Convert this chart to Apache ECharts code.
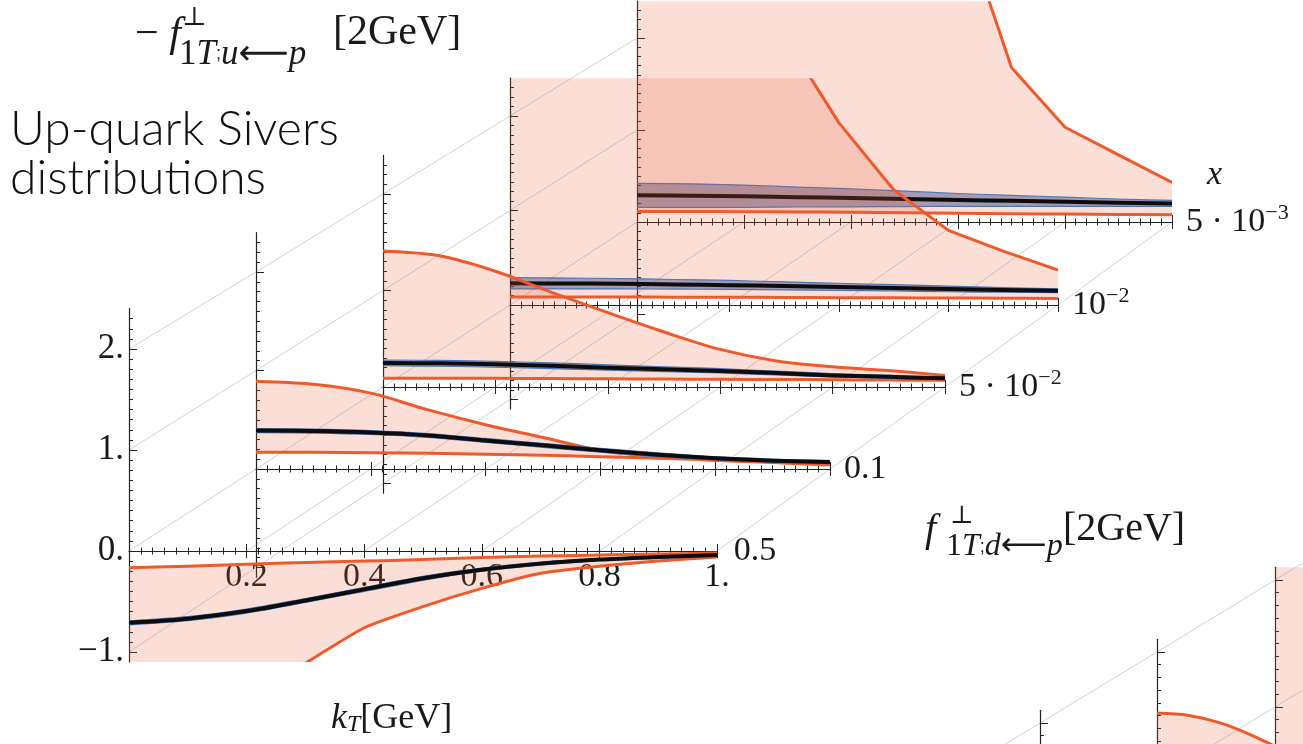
<!DOCTYPE html>
<html><head><meta charset="utf-8">
<script src="https://cdn.jsdelivr.net/npm/echarts@6/dist/echarts.min.js"></script>
<style>html,body{margin:0;padding:0;background:#fff}#c{width:1303px;height:744px}</style>
</head><body><div id="c"></div>
<script>
// ================= DATA =================
const kT = [0, 0.1, 0.2, 0.3, 0.4, 0.5, 0.6, 0.7, 0.8, 0.9, 1.0];
const xValueLabels = ['0.5', '0.1', '5 · 10{s|−2}', '10{s|−2}', '5 · 10{s|−3}'];
const kTTickLabels = ['0.2', '0.4', '0.6', '0.8', '1.'];
const yTickValues = [-1, 0, 1, 2];

// panel x = 0.5
const p0Upper   = [-0.165, -0.15, -0.13, -0.115, -0.10, -0.085, -0.065, -0.05, -0.04, -0.03, -0.02];
const p0Lower   = [-2.1, -1.8, -1.46, -1.11, -0.76, -0.55, -0.37, -0.22, -0.15, -0.10, -0.06];
const p0Central = [-0.71, -0.67, -0.595, -0.49, -0.38, -0.27, -0.185, -0.125, -0.085, -0.06, -0.04];
const p0BandHi  = [-0.69, -0.65, -0.575, -0.47, -0.36, -0.25, -0.17, -0.11, -0.075, -0.05, -0.032];
const p0BandLo  = [-0.73, -0.69, -0.615, -0.51, -0.40, -0.29, -0.20, -0.14, -0.095, -0.07, -0.048];
// panel x = 0.1
const p1Upper   = [0.89, 0.86, 0.77, 0.60, 0.45, 0.32, 0.19, 0.13, 0.09, 0.075, 0.065];
const p1Lower   = [0.17, 0.17, 0.165, 0.16, 0.15, 0.14, 0.125, 0.11, 0.09, 0.065, 0.04];
const p1Central = [0.39, 0.385, 0.37, 0.34, 0.29, 0.24, 0.19, 0.145, 0.11, 0.085, 0.07];
const p1BandHi  = [0.41, 0.405, 0.39, 0.36, 0.31, 0.26, 0.21, 0.165, 0.125, 0.10, 0.085];
const p1BandLo  = [0.37, 0.365, 0.35, 0.32, 0.27, 0.22, 0.17, 0.125, 0.095, 0.07, 0.055];
// panel x = 5e-2
const p2Upper   = [1.41, 1.36, 1.20, 0.98, 0.77, 0.57, 0.39, 0.27, 0.21, 0.17, 0.12];
const p2Lower   = [0.09, 0.09, 0.09, 0.088, 0.085, 0.083, 0.08, 0.078, 0.075, 0.072, 0.07];
const p2Central = [0.25, 0.245, 0.235, 0.22, 0.20, 0.185, 0.165, 0.145, 0.12, 0.105, 0.09];
const p2BandHi  = [0.28, 0.275, 0.265, 0.25, 0.23, 0.21, 0.19, 0.165, 0.14, 0.12, 0.105];
const p2BandLo  = [0.22, 0.215, 0.205, 0.19, 0.175, 0.16, 0.145, 0.125, 0.105, 0.09, 0.078];
// panel x = 1e-2
const p3Upper   = [12, 10, 8, 6, 4.2, 2.85, 1.93, 1.22, 0.79, 0.57, 0.37];
const p3Lower   = [0.085, 0.085, 0.084, 0.083, 0.082, 0.08, 0.078, 0.076, 0.074, 0.072, 0.07];
const p3Central = [0.23, 0.228, 0.225, 0.218, 0.21, 0.20, 0.19, 0.18, 0.17, 0.16, 0.15];
const p3BandHi  = [0.29, 0.285, 0.28, 0.27, 0.26, 0.245, 0.23, 0.215, 0.20, 0.185, 0.17];
const p3BandLo  = [0.17, 0.17, 0.17, 0.168, 0.165, 0.16, 0.155, 0.15, 0.14, 0.135, 0.13];
// panel x = 5e-3
const p4Upper   = [15, 13, 11, 9, 7, 5, 3.4, 1.68, 1.03, 0.73, 0.43];
const p4Lower   = [0.115, 0.114, 0.112, 0.11, 0.105, 0.10, 0.095, 0.09, 0.086, 0.082, 0.078];
const p4Central = [0.29, 0.285, 0.28, 0.27, 0.26, 0.25, 0.24, 0.23, 0.22, 0.21, 0.20];
const p4BandHi  = [0.42, 0.415, 0.40, 0.38, 0.36, 0.335, 0.31, 0.29, 0.27, 0.25, 0.235];
const p4BandLo  = [0.16, 0.16, 0.16, 0.163, 0.165, 0.168, 0.17, 0.17, 0.17, 0.17, 0.17];

// partially visible d-quark figure (bottom right)
const dKT      = [0, 0.05, 0.1, 0.15, 0.2, 0.3];
const dBUpper  = [0.52, 0.50, 0.44, 0.34, 0.22, 0.0];
const dBLower  = [-1.5, -1.5, -1.5, -1.5, -1.5, -1.5];
const dCUpper  = [2.0, 2.0, 2.0, 2.0, 2.0, 2.0];
const dCLower  = [-1.5, -1.5, -1.5, -1.5, -1.5, -1.5];
const dTickValues = [-1, 0, 1];

// ================= LAYOUT / STYLE =================
const SERIF = '"Liberation Serif","DejaVu Serif",serif';
const TXT = '#1a1a1a';
const AX = '#222';
const RED = '#ee5a2c';
const PINK = 'rgba(236,96,56,0.2)';
const BLUE = '#4a76b8';
const BLUEFILL = 'rgba(45,60,120,0.42)';
const GUIDE = '#d2d2d2';
const Y_MIN = -1.1, Y_MAX = 2.4;

const layout = [
  {left: 129, zeroY: 551, width: 588, scale: 101},
  {left: 256, zeroY: 469, width: 574, scale: 98.5},
  {left: 383, zeroY: 387, width: 562, scale: 96.5},
  {left: 510, zeroY: 305, width: 548, scale: 94.5},
  {left: 637, zeroY: 222, width: 535, scale: 92}
];
const dLayout = [
  {left: 1040, zeroY: 850, width: 650, scale: 127},
  {left: 1157, zeroY: 779, width: 640, scale: 127},
  {left: 1275, zeroY: 707, width: 630, scale: 127}
];
const D_MIN = -1.1, D_MAX = 1.1;

// smoothing of drawn curves: 1 = smooth spline, 0 = straight segments
const panels = [
  {upper: p0Upper, lower: p0Lower, central: p0Central, hi: p0BandHi, lo: p0BandLo, tu: 1, tl: 0.5},
  {upper: p1Upper, lower: p1Lower, central: p1Central, hi: p1BandHi, lo: p1BandLo, tu: 1, tl: 1},
  {upper: p2Upper, lower: p2Lower, central: p2Central, hi: p2BandHi, lo: p2BandLo, tu: 1, tl: 1},
  {upper: p3Upper, lower: p3Lower, central: p3Central, hi: p3BandHi, lo: p3BandLo, tu: 0, tl: 1},
  {upper: p4Upper, lower: p4Lower, central: p4Central, hi: p4BandHi, lo: p4BandLo, tu: 0, tl: 1}
];

// path through pixel points (Catmull-Rom style, t = tension 0..1)
function curvePath(pts, t, start) {
  let d = (start ? 'M' : 'L') + pts[0][0].toFixed(2) + ' ' + pts[0][1].toFixed(2);
  for (let i = 0; i < pts.length - 1; i++) {
    const p0 = pts[Math.max(i - 1, 0)], p1 = pts[i], p2 = pts[i + 1], p3 = pts[Math.min(i + 2, pts.length - 1)];
    const c1 = [p1[0] + (p2[0] - p0[0]) * t / 6, p1[1] + (p2[1] - p0[1]) * t / 6];
    const c2 = [p2[0] - (p3[0] - p1[0]) * t / 6, p2[1] - (p3[1] - p1[1]) * t / 6];
    d += 'C' + c1[0].toFixed(2) + ' ' + c1[1].toFixed(2) + ' ' + c2[0].toFixed(2) + ' ' + c2[1].toFixed(2) + ' ' + p2[0].toFixed(2) + ' ' + p2[1].toFixed(2);
  }
  return d;
}
const fillPath = (up, low, tu, tl) => curvePath(up, tu, true) + curvePath(low.slice().reverse(), tl, false) + 'Z';
const strokeEl = (d, color, w) => ({type: 'path', shape: {pathData: d}, style: {fill: null, stroke: color, lineWidth: w, lineJoin: 'round'}});
const fillEl = (d, color) => ({type: 'path', shape: {pathData: d}, style: {fill: color, stroke: null}});

function makeRenderer(n, tu, tl, withCentral) {
  return function (params, api) {
    if (params.dataIndex !== 0) return null;
    const col = dim => { const a = []; for (let j = 0; j < n; j++) a.push(api.coord([api.value(0, j), api.value(dim, j)])); return a; };
    const lower = col(1), upper = col(2);
    const children = [fillEl(fillPath(upper, lower, tu, tl), PINK)];
    children.push(strokeEl(curvePath(lower, tl, true), RED, 3));
    children.push(strokeEl(curvePath(upper, tu, true), RED, 3));
    if (withCentral) {
      const lo = col(3), hi = col(4), mid = col(5);
      children.push(fillEl(fillPath(hi, lo, 1, 1), BLUEFILL));
      children.push(strokeEl(curvePath(hi, 1, true), BLUE, 1.2));
      children.push(strokeEl(curvePath(lo, 1, true), BLUE, 1.2));
      children.push(strokeEl(curvePath(mid, 1, true), '#0d0d0d', 4));
    }
    const cs = params.coordSys;
    return {type: 'group', children,
      clipPath: {type: 'rect', shape: {x: cs.x, y: cs.y, width: cs.width, height: cs.height}}};
  };
}

const grids = [], xAxes = [], yAxes = [], series = [];
const nameRich = {s: {fontFamily: SERIF, fontSize: 22, lineHeight: 22, verticalAlign: 'top', color: TXT}};

layout.forEach((L, g) => {
  grids.push({left: L.left, top: L.zeroY - Y_MAX * L.scale, width: L.width,
    height: (Y_MAX - Y_MIN) * L.scale, containLabel: false, outerBoundsMode: 'none'});
  const off = Y_MIN * L.scale; // move axis from grid bottom up to value 0
  xAxes.push({
    gridIndex: g, type: 'value', min: 0, max: 1, interval: 0.2, position: 'bottom', offset: off,
    axisLine: {show: true, onZero: false, lineStyle: {color: AX, width: 1.2}},
    axisTick: {show: true, inside: true, length: 7, lineStyle: {color: AX, width: 1}},
    minorTick: {show: true, splitNumber: 10, length: 3.5, lineStyle: {color: AX, width: 1}},
    splitLine: {show: false},
    axisLabel: {show: g === 0, margin: 9, fontFamily: SERIF, fontSize: 34, color: TXT,
      formatter: v => { const i = Math.round(v / 0.2) - 1; return i >= 0 ? kTTickLabels[i] : ''; }},
    name: xValueLabels[g], nameLocation: 'end', nameGap: 14,
    nameTextStyle: {fontFamily: SERIF, fontSize: 34, color: TXT, lineHeight: 40, rich: nameRich}
  });
  xAxes.push({
    gridIndex: g, type: 'value', min: 0, max: 1, interval: 0.2, position: 'bottom', offset: off,
    axisLine: {show: true, onZero: false, lineStyle: {color: AX, width: 1, opacity: 0}},
    axisTick: {show: true, inside: false, length: 7, lineStyle: {color: AX, width: 1}},
    minorTick: {show: true, splitNumber: 10, length: 3.5, lineStyle: {color: AX, width: 1}},
    splitLine: {show: false}, axisLabel: {show: false}
  });
  yAxes.push({
    gridIndex: g, type: 'value', min: Y_MIN, max: Y_MAX, splitNumber: 3, position: 'left',
    axisLine: {show: true, onZero: false, lineStyle: {color: AX, width: 1.2}},
    axisTick: {show: true, inside: true, length: 8, customValues: yTickValues, lineStyle: {color: AX, width: 1}},
    minorTick: {show: true, splitNumber: 10, length: 4, lineStyle: {color: AX, width: 1}},
    splitLine: {show: false},
    axisLabel: {show: g === 0, customValues: yTickValues, margin: 5, fontFamily: SERIF, fontSize: 35, color: TXT,
      formatter: v => Number.isInteger(v) ? (v < 0 ? '−' : '') + Math.abs(v) + '.' : ''}
  });
});

// series: back panels first so front panels draw on top
for (let g = layout.length - 1; g >= 0; g--) {
  const P = panels[g];
  series.push({
    type: 'custom', coordinateSystem: 'cartesian2d', xAxisIndex: 2 * g, yAxisIndex: g,
    data: kT.map((k, i) => [k, P.lower[i], P.upper[i], P.lo[i], P.hi[i], P.central[i]]),
    encode: {x: 0, y: [1, 2, 3, 4, 5]},
    renderItem: makeRenderer(kT.length, P.tu, P.tl, true), z: 2
  });
}

// d-quark partial panels
dLayout.forEach((L, j) => {
  const g = layout.length + j;
  grids.push({left: L.left, top: L.zeroY - D_MAX * L.scale, width: L.width,
    height: (D_MAX - D_MIN) * L.scale, containLabel: false, outerBoundsMode: 'none'});
  xAxes.push({gridIndex: g, type: 'value', min: 0, max: 1, show: false});
  xAxes.push({gridIndex: g, type: 'value', min: 0, max: 1, show: false});
  yAxes.push({
    gridIndex: g, type: 'value', min: D_MIN, max: D_MAX, splitNumber: 2, position: 'left',
    axisLine: {show: true, onZero: false, lineStyle: {color: AX, width: 1.2}},
    axisTick: {show: true, inside: true, length: 8, customValues: dTickValues, lineStyle: {color: AX}},
    minorTick: {show: true, splitNumber: 10, length: 4, lineStyle: {color: AX}},
    splitLine: {show: false}, axisLabel: {show: false}
  });
});
const dBands = [null, {upper: dBUpper, lower: dBLower}, {upper: dCUpper, lower: dCLower}];
dBands.forEach((B, j) => {
  if (!B) return;
  const g = layout.length + j;
  series.push({
    type: 'custom', coordinateSystem: 'cartesian2d', xAxisIndex: 2 * g, yAxisIndex: g,
    data: dKT.map((k, i) => [k, B.lower[i], B.upper[i]]),
    encode: {x: 0, y: [1, 2]},
    renderItem: makeRenderer(dKT.length, 1, 1, false), z: 2
  });
});

const T = (text, left, top, style) => ({text, left, top, padding: 0, textStyle: Object.assign({fontWeight: 'normal', color: TXT}, style)});
const serifRich = (size) => ({
  r: {fontFamily: SERIF, fontSize: size, color: TXT, fontWeight: 'normal'},
  i: {fontFamily: SERIF, fontSize: size, color: TXT, fontStyle: 'italic', fontWeight: 'normal'},
  a: {fontFamily: '"DejaVu Sans"', fontSize: size, color: TXT, fontWeight: 'normal'}
});

const titles = [
  T('{r|−}{i| f}', 135, 14, {rich: serifRich(42)}),
  T('⊥', 182, 5, {fontFamily: SERIF, fontSize: 26}),
  T('{r|1}{i|T};{i|u}{a|⟵}{i|p}', 179, 37, {rich: serifRich(35)}),
  T('[2GeV]', 333, 12, {fontFamily: SERIF, fontSize: 42}),
  T('Up-quark Sivers', 10, 106, {fontFamily: 'Lato', fontSize: 48, fontWeight: 300, color: '#111'}),
  T('distributions', 10, 155, {fontFamily: 'Lato', fontSize: 48, fontWeight: 300, color: '#111'}),
  T('x', 1207, 158, {fontFamily: SERIF, fontSize: 34, fontStyle: 'italic'}),
  T('{i|k}{s|T}{r|[GeV]}', 331, 701, {rich: Object.assign(serifRich(36),
     {s: {fontFamily: SERIF, fontSize: 24, fontStyle: 'italic', verticalAlign: 'bottom', lineHeight: 24, color: TXT}})}),
  T('{i|f}', 925, 510, {rich: serifRich(40)}),
  T('⊥', 950, 504, {fontFamily: SERIF, fontSize: 25}),
  T('{r|1}{i|T};{i|d}{a|⟵}{i|p}', 946, 531, {rich: serifRich(32)}),
  T('[2GeV]', 1063, 509, {fontFamily: SERIF, fontSize: 40})
];

const chart = echarts.init(document.getElementById('c'), null, {renderer: 'canvas', width: 1303, height: 744});
chart.setOption({
  animation: false,
  backgroundColor: '#fff',
  title: titles,
  grid: grids, xAxis: xAxes, yAxis: yAxes, series: series
});

// perspective guide lines of the 3D box, computed through each panel's scales
function buildGuides() {
  const els = [];
  const px = (g, pt) => chart.convertToPixel({xAxisIndex: 2 * g, yAxisIndex: g}, pt);
  const through = (pt) => layout.map((L, g) => px(g, pt));
  yTickValues.forEach(z => els.push(through([0, z])));
  [0.2, 0.4, 0.6, 0.8, 1.0].forEach(k => els.push(through([k, 0])));
  [1, 0].forEach(z => {
    const p = dLayout.map((L, j) => px(layout.length + j, [0, z]));
    const a = p[0], b = p[1], c = p[p.length - 1], d = p[p.length - 2];
    const ext1 = [a[0] - (b[0] - a[0]) * 3, a[1] - (b[1] - a[1]) * 3];
    const ext2 = [c[0] + (c[0] - d[0]) * 3, c[1] + (c[1] - d[1]) * 3];
    els.push([ext1].concat(p, [ext2]));
  });
  chart.setOption({graphic: {elements: els.map(pts => ({
    type: 'polyline', silent: true, z: -10, shape: {points: pts},
    style: {stroke: GUIDE, lineWidth: 1, fill: null}
  }))}});
}
buildGuides();
</script>
</body></html>
